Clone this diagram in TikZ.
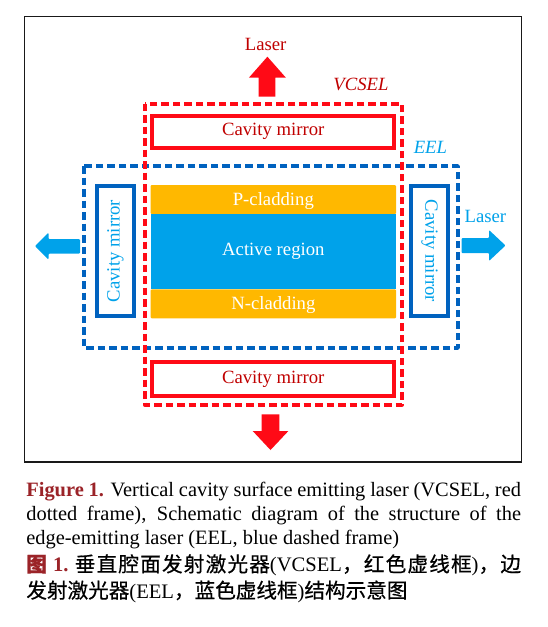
\documentclass[tikz,border=0pt]{standalone}
\usepackage{fontspec}
\setmainfont{Liberation Serif}
\newfontfamily\cjk[FakeBold=0.6]{Noto Sans CJK SC}
\definecolor{vred}{HTML}{FF0A16}
\definecolor{tred}{HTML}{C00000}
\definecolor{lblue}{HTML}{00A2EA}
\definecolor{dblue}{HTML}{0062BF}
\definecolor{corange}{HTML}{FFB800}
\definecolor{capred}{RGB}{155,35,40}
\begin{document}
\begin{tikzpicture}[x=1pt,y=-1pt,
  lbl/.style={inner sep=0pt, font=\fontsize{18.7}{21}\selectfont},
  dframe/.style={line width=3.8pt, dash pattern=on 7.5pt off 4pt, line join=round},
  mbox/.style={draw, line width=4pt, inner sep=0pt, font=\fontsize{18.7}{21}\selectfont},
  layer/.style={fill=corange, inner sep=0pt, text=white, rounded corners=1pt,
                minimum width=245.3pt, font=\fontsize{18.7}{21}\selectfont},
  blockarrow/.style={draw=none}]
\useasboundingbox (0,0) rectangle (548,627);
\fill[white] (0,0) rectangle (548,627);
% outer frame
\draw[line width=1.3pt, black!90] (24.5,16.7) rectangle (521.7,462);
% EEL frame
\draw[dframe, dblue] (84.2,166) rectangle (458,348);
% VCSEL frame
\draw[dframe, vred] (144.7,103.7) rectangle (402,404.7);
% layers
\node[layer, minimum height=29pt, text height=16.6pt, text depth=4.1pt] (pclad) at (273.35,199.5) {P-cladding};
\node[layer, fill=lblue, minimum height=75.3pt, rounded corners=0pt] (active) at (273.35,251.65) {Active region};
\node[layer, minimum height=29pt, text height=14.8pt, text depth=4.1pt] (nclad) at (273.35,303.8) {N-cladding};
% VCSEL mirrors
\node[mbox, vred, text=tred, minimum width=242.3pt, minimum height=32.5pt] (topm) at (273.2,131.8) {Cavity mirror};
\node[mbox, vred, text=tred, minimum width=242.3pt, minimum height=34.3pt] (botm) at (273.2,379.2) {Cavity mirror};
% EEL mirrors
\node[mbox, dblue, text=lblue, rotate=90, minimum width=130pt, minimum height=36.9pt] (leftm) at (115.5,251) {Cavity mirror};
\node[mbox, dblue, text=lblue, rotate=-90, minimum width=130pt, minimum height=37pt] (rightm) at (429.5,251) {Cavity mirror};
% arrows
\fill[vred] (258.6,96.7) -- (258.6,77.7) -- (248.9,77.7) -- (267.4,56.7) -- (285.9,77.7) -- (275.4,77.7) -- (275.4,96.7) -- cycle;
\fill[vred] (261.5,414.3) -- (279.3,414.3) -- (279.3,431) -- (288.4,431) -- (270.5,450) -- (252.7,431) -- (261.5,431) -- cycle;
\fill[lblue, rounded corners=1pt] (35,246) -- (48.5,232.7) -- (48.5,239) -- (80,239) -- (80,253.5) -- (48.5,253.5) -- (48.5,259.5) -- cycle;
\fill[lblue, rounded corners=1pt] (461.5,238) -- (489,238) -- (489,230) -- (505.5,245.5) -- (489,261) -- (489,253) -- (461.5,253) -- cycle;
% labels
\node[lbl, text=tred] (laserup) at (265.6,44.2) {Laser};
\node[lbl, text=tred, font=\fontsize{18.7}{21}\selectfont\itshape] (vcsel) at (361,84.3) {VCSEL};
\node[lbl, text=lblue, font=\fontsize{18.7}{21}\selectfont\itshape] (eel) at (430.4,147.7) {EEL};
\node[lbl, text=lblue] (laserright) at (485.4,216.7) {Laser};
% caption
\node[anchor=base west, inner sep=0pt, text width=494.6pt, align=justify,
      font=\fontsize{20.4}{24}\selectfont] (capen) at (26.2,496)
 {\tolerance=10000 {\bfseries\color{capred}Figure 1.} Vertical cavity surface emitting laser (VCSEL, red\linebreak
  dotted frame), Schematic diagram of the structure of the\linebreak
  edge-emitting laser (EEL, blue dashed frame)};
\node[anchor=base west, inner sep=0pt, text width=494.6pt, align=justify,
      font=\fontsize{20.6}{26.3}\selectfont] (capzh) at (26.2,571.7)
 {\tolerance=10000 \XeTeXlinebreaklocale "zh"\XeTeXlinebreakskip=0pt plus 3pt
  {\cjk\bfseries\color{capred}图}\ {\bfseries\color{capred}1.}\ {\cjk 垂直腔面发射激光器}(VCSEL{\cjk ，红色虚线框})\kern0pt{\cjk ，边}\linebreak
  {\cjk 发射激光器}(EEL{\cjk ，蓝色虚线框})\kern0pt{\cjk 结构示意图}};
\end{tikzpicture}
\end{document}
